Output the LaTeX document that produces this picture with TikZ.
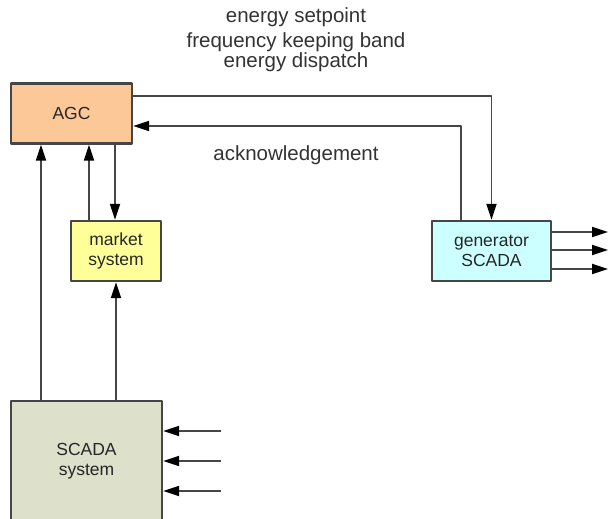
\documentclass[tikz,border=0pt]{standalone}
\usepackage{fontspec}
\setmainfont{Liberation Sans}
\usetikzlibrary{arrows.meta}
\definecolor{agcfill}{RGB}{252,200,152}
\definecolor{marketfill}{RGB}{255,255,153}
\definecolor{genfill}{RGB}{204,255,255}
\definecolor{scadafill}{RGB}{221,224,203}
\definecolor{linegray}{RGB}{70,70,70}
\tikzset{
	block/.style={draw=linegray, line width=2.2pt, align=center, inner sep=0pt, text=black!85,
		font=\fontsize{17.5}{20}\selectfont},
	arr/.style={draw=linegray, line width=1.9pt, -{Triangle[length=16pt,width=10pt,color=black]}},
	lbl/.style={align=center, font=\fontsize{20.5}{20}\selectfont, text=black!80}
}
\begin{document}
\begin{tikzpicture}[x=1pt, y=-1pt, line join=round]
	\useasboundingbox (0,0) rectangle (608,519);
	\node[block, fill=agcfill, minimum width=121pt, minimum height=60pt] (agc) at (71.5,113.5) {AGC};
	\node[block, fill=marketfill, minimum width=90pt, minimum height=60pt] (market) at (116,251) {market\\system};
	\node[block, fill=genfill, minimum width=119pt, minimum height=60pt] (gen) at (491.5,251) {generator\\SCADA};
	\node[block, fill=scadafill, minimum width=151pt, minimum height=121pt] (scada) at (86.5,461.5) {SCADA\\system};
	\node[lbl] (setpoint) at (296,17) {energy setpoint};
	\node[lbl] (dispatch) at (296,52) {frequency keeping band\\energy dispatch};
	\node[lbl] (ack) at (296,155) {acknowledgement};
	% AGC <-> generator SCADA
	\draw[arr] (agc.east |- 0,96) -| (gen.north);
	\draw[arr] (gen.north -| 461,0) |- (agc.east |- 0,126);
	% AGC <-> market system
	\draw[arr] (market.north -| 89,0) -- (agc.south -| 89,0);
	\draw[arr] (agc.south -| 115,0) -- (market.north -| 115,0);
	% SCADA system up
	\draw[arr] (scada.north -| 41,0) -- (agc.south -| 41,0);
	\draw[arr] (scada.north -| 116,0) -- (market.south -| 116,0);
	% inputs and outputs
	\foreach \y [count=\i] in {431,461,491} {
		\coordinate (in\i) at (221,\y);
		\draw[arr] (in\i) -- (scada.east |- in\i);
	}
	\foreach \y [count=\i] in {232,250,269} {
		\coordinate (out\i) at (608,\y);
		\draw[arr] (gen.east |- out\i) -- (out\i);
	}
\end{tikzpicture}
\end{document}
